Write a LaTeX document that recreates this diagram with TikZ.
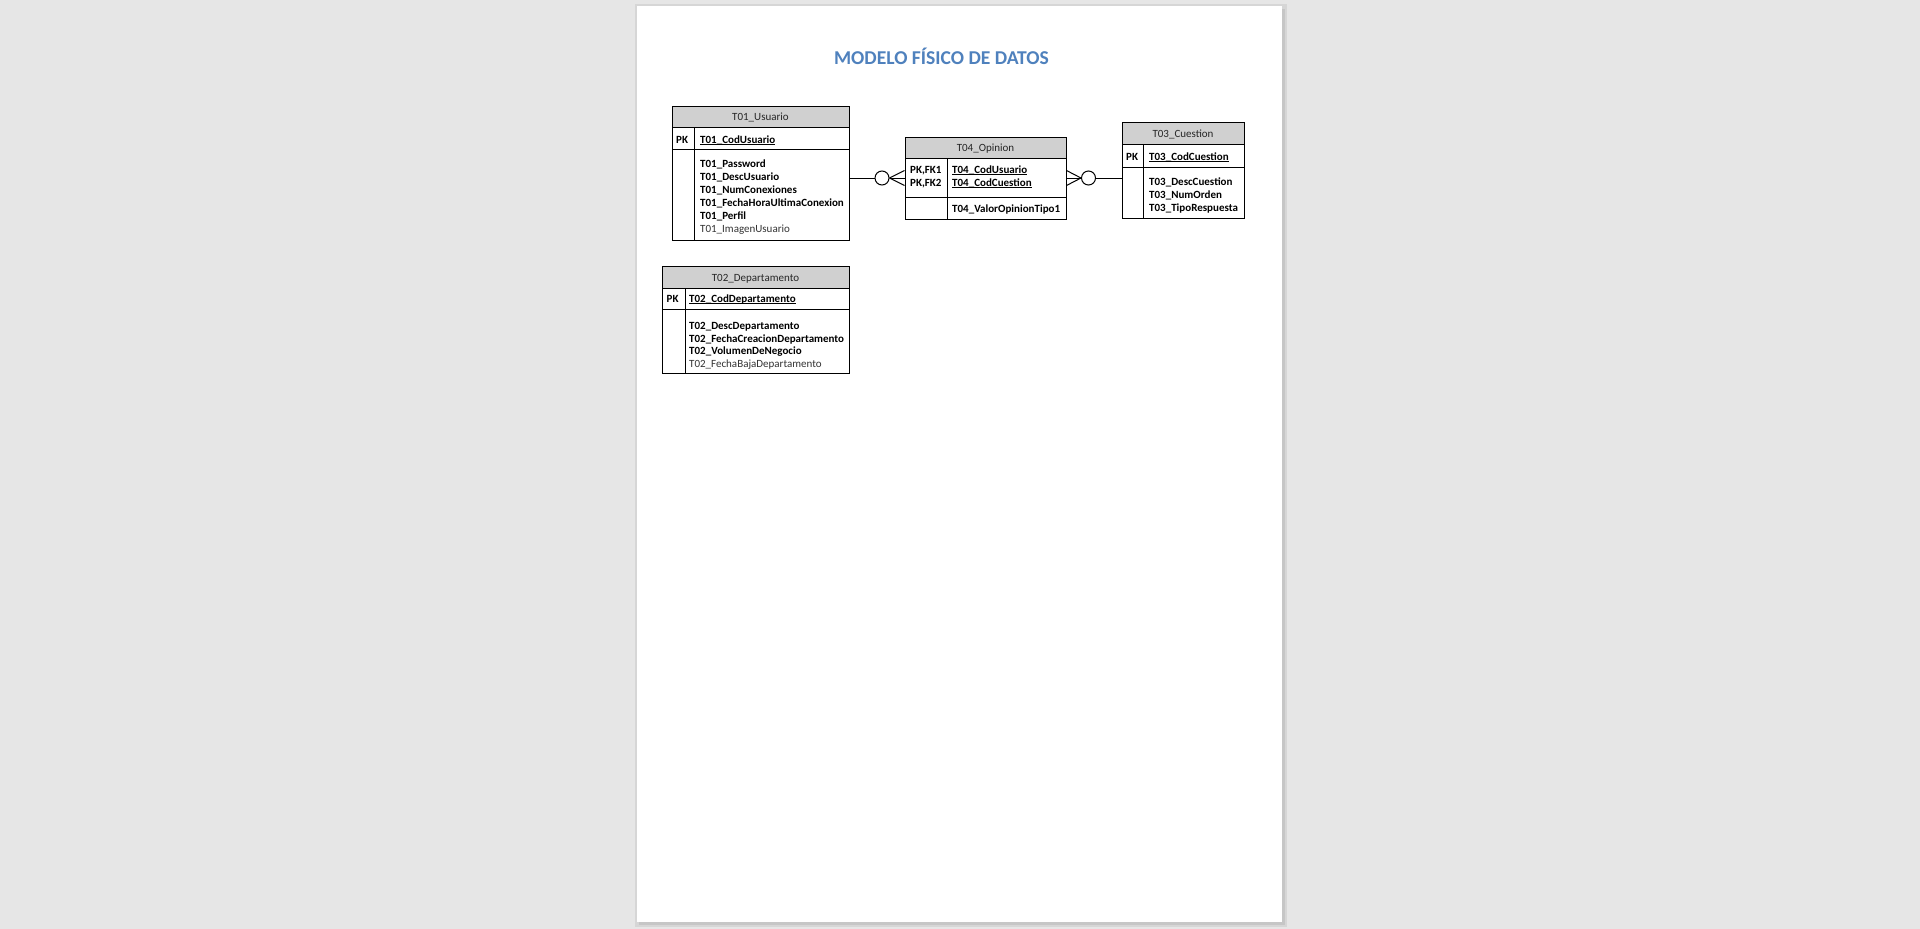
\documentclass[tikz,border=0pt]{standalone}
\usepackage{fontspec}
\setmainfont{Carlito}
\usetikzlibrary{calc,fit}
\definecolor{bg}{HTML}{E6E6E6}
\definecolor{shadowc}{HTML}{D6D6D6}
\definecolor{shadowd}{HTML}{C6C6C6}
\definecolor{hdr}{HTML}{D0D0D0}
\definecolor{titleblue}{HTML}{4F81BD}
\definecolor{soft}{HTML}{333333}
\definecolor{hdrtext}{HTML}{262626}
\newcommand{\myul}[1]{\setbox0\hbox{#1}\rlap{\rule[-1.7pt]{\wd0}{0.7pt}}\box0}
\begin{document}
\begin{tikzpicture}[x=1pt,y=-1pt,
  frame/.style={draw=black, line width=1pt, inner sep=0pt},
  hdrbox/.style={fill=hdr, draw=none, inner sep=0pt},
  hdrlabel/.style={anchor=base, inner sep=0pt, text=hdrtext, font=\fontsize{11}{13}\selectfont},
  attr/.style={anchor=base west, inner sep=0pt, font=\fontsize{11}{13}\bfseries\selectfont},
  attrsoft/.style={anchor=base west, inner sep=0pt, text=soft, font=\fontsize{11}{13}\selectfont},
  inner/.style={draw=black, line width=1pt},
  conn/.style={draw=black, line width=1pt},
  ring/.style={circle, draw=black, line width=1pt, fill=white, minimum size=14pt, inner sep=0pt}
]
\useasboundingbox (0,0) rectangle (1920,929);
% background and page
\fill[bg] (0,0) rectangle (1920,929);
\fill[shadowc] (635,4) rectangle (1287,927);
\fill[shadowd] (639,9) rectangle (1285,925);
\fill[white] (637,6) rectangle (1282,922);

% title
\node[anchor=base, inner sep=0pt, text=titleblue, font=\fontsize{19.6}{23}\bfseries\selectfont] (title) at (941.5,64) {MODELO FÍSICO DE DATOS};

% ---------- T01_Usuario ----------
\node[hdrbox, fit={(672,106)(849,127)}] (t01h) {};
\node[frame, fit={(672,106)(849,240)}] (t01) {};
\draw[inner] (672,127) -- (849,127);
\draw[inner] (672,149) -- (849,149);
\draw[inner] (694,127) -- (694,240);
\node[hdrlabel] (t01hl) at (760.5,120) {T01\_Usuario};
\node[attr] (t01pk) at (676,143) {PK};
\node[attr] (t01k) at (700,143) {\myul{T01\_CodUsuario}};
\node[attr] (t01a1) at (700,167.5) {T01\_Password};
\node[attr] (t01a2) at (700,180.5) {T01\_DescUsuario};
\node[attr] (t01a3) at (700,193.5) {T01\_NumConexiones};
\node[attr] (t01a4) at (700,206.5) {T01\_FechaHoraUltimaConexion};
\node[attr] (t01a5) at (700,219.5) {T01\_Perfil};
\node[attrsoft] (t01a6) at (700,232.5) {T01\_ImagenUsuario};

% ---------- T04_Opinion ----------
\node[hdrbox, fit={(905,137)(1066,158)}] (t04h) {};
\node[frame, fit={(905,137)(1066,219)}] (t04) {};
\draw[inner] (905,158) -- (1066,158);
\draw[inner] (905,197) -- (1066,197);
\draw[inner] (947,158) -- (947,219);
\node[hdrlabel] (t04hl) at (985.5,151) {T04\_Opinion};
\node[attr] (t04pk1) at (910,173) {PK,FK1};
\node[attr] (t04pk2) at (910,186) {PK,FK2};
\node[attr] (t04k1) at (952,173) {\myul{T04\_CodUsuario}};
\node[attr] (t04k2) at (952,186) {\myul{T04\_CodCuestion}};
\node[attr] (t04a1) at (952,212.5) {T04\_ValorOpinionTipo1};

% ---------- T03_Cuestion ----------
\node[hdrbox, fit={(1122,122)(1244,144)}] (t03h) {};
\node[frame, fit={(1122,122)(1244,218)}] (t03) {};
\draw[inner] (1122,144) -- (1244,144);
\draw[inner] (1122,167) -- (1244,167);
\draw[inner] (1143,144) -- (1143,218);
\node[hdrlabel] (t03hl) at (1183,137) {T03\_Cuestion};
\node[attr] (t03pk) at (1126,160) {PK};
\node[attr] (t03k) at (1149,160) {\myul{T03\_CodCuestion}};
\node[attr] (t03a1) at (1149,185) {T03\_DescCuestion};
\node[attr] (t03a2) at (1149,198) {T03\_NumOrden};
\node[attr] (t03a3) at (1149,211) {T03\_TipoRespuesta};

% ---------- T02_Departamento ----------
\node[hdrbox, fit={(662,266)(849,288)}] (t02h) {};
\node[frame, fit={(662,266)(849,373)}] (t02) {};
\draw[inner] (662,288) -- (849,288);
\draw[inner] (662,309) -- (849,309);
\draw[inner] (685,288) -- (685,373);
\node[hdrlabel] (t02hl) at (755.5,281) {T02\_Departamento};
\node[attr] (t02pk) at (666.5,302) {PK};
\node[attr] (t02k) at (689,302) {\myul{T02\_CodDepartamento}};
\node[attr] (t02a1) at (689,329) {T02\_DescDepartamento};
\node[attr] (t02a2) at (689,342) {T02\_FechaCreacionDepartamento};
\node[attr] (t02a3) at (689,354.5) {T02\_VolumenDeNegocio};
\node[attrsoft] (t02a4) at (689,367) {T02\_FechaBajaDepartamento};

% ---------- connectors ----------
\node[ring] (c1) at (882,178) {};
\node[ring] (c2) at (1088.5,178) {};
\draw[conn] (c1.west -| t01.east) -- (c1.west);
\draw[conn] (c1.east) -- ($(t04.west)+(0,-7.5)$);
\draw[conn] (c1.east) -- (t04.west);
\draw[conn] (c1.east) -- ($(t04.west)+(0,7.5)$);
\draw[conn] (c2.west) -- ($(t04.east)+(0,-7.5)$);
\draw[conn] (c2.west) -- (t04.east);
\draw[conn] (c2.west) -- ($(t04.east)+(0,7.5)$);
\draw[conn] (c2.east) -- (c2.east -| t03.west);
\end{tikzpicture}
\end{document}
